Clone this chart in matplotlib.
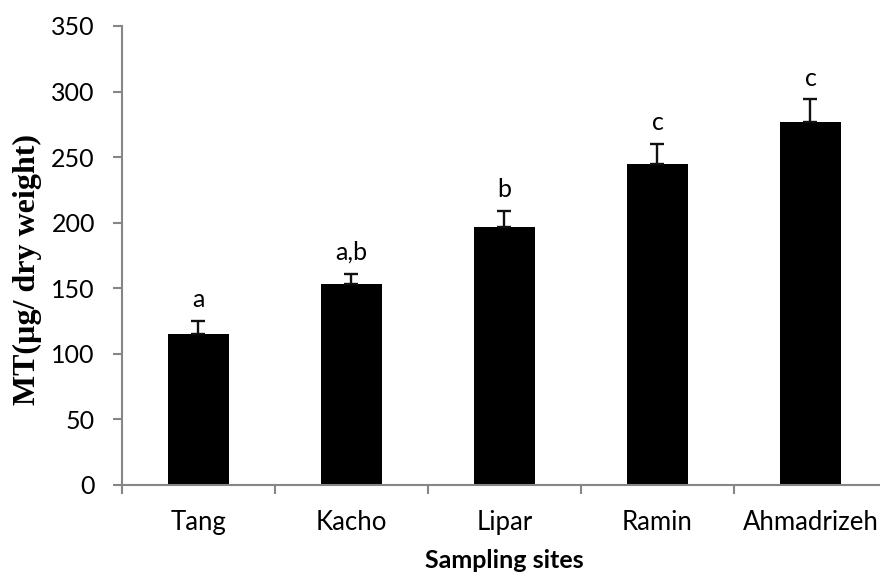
#!/usr/bin/env python3
"""MT levels per sampling site - bar chart with error bars"""
import matplotlib
matplotlib.use("Agg")
import matplotlib.pyplot as plt
import numpy as np

sites = ["Tang", "Kacho", "Lipar", "Ramin", "Ahmadrizeh"]
mt = [115, 153, 197, 245, 277]
err = [10, 8, 12, 15, 17]
groups = ["a", "a,b", "b", "c", "c"]
yticks = [0, 50, 100, 150, 200, 250, 300, 350]

plt.rcParams["font.family"] = ["Lato", "DejaVu Sans"]
axis_gray = "#868686"

fig = plt.figure(figsize=(8.8, 5.79), dpi=100)
ax = fig.add_axes([0.1386, 0.1624, 0.8693, 0.7927])

x = np.arange(len(sites))
ax.bar(x, mt, width=0.4, color="black", zorder=2)
ax.errorbar(x, mt, yerr=[np.zeros(len(err)), err], fmt="none", ecolor="#111111",
            elinewidth=1.7, capsize=4.7, capthick=1.7, zorder=3)

for xi, v, e, g in zip(x, mt, err, groups):
    ax.annotate(g, (xi, v + e), xytext=(0, 10), textcoords="offset points",
                ha="center", va="baseline", fontsize=18)

ax.set_xlim(-0.5, len(sites) - 0.5)
ax.set_ylim(0, 350)
ax.set_yticks(yticks)

# boundary ticks between categories, labels at centres
ax.set_xticks(np.arange(-0.5, len(sites), 1.0))
ax.set_xticklabels([])
ax.set_xticks(x, minor=True)
ax.set_xticklabels(sites, minor=True)
ax.tick_params(axis="x", which="minor", length=0, pad=18, labelsize=18.5)
ax.tick_params(axis="x", which="major", length=6.5, width=1.5, color=axis_gray, direction="out")
ax.tick_params(axis="y", length=6.5, width=1.5, color=axis_gray, direction="out",
               pad=13, labelsize=18)

for s in ["top", "right"]:
    ax.spines[s].set_visible(False)
for s in ["left", "bottom"]:
    ax.spines[s].set_color(axis_gray)
    ax.spines[s].set_linewidth(1.5)

ax.set_xlabel("Sampling sites", fontsize=18, fontweight="bold")
ax.xaxis.set_label_coords(0.5, -0.14)
ax.set_ylabel("MT(µg/ dry weight)", fontsize=23, fontweight="bold",
              family=["Liberation Serif", "DejaVu Serif"])
ax.yaxis.set_label_coords(-0.105, 0.47)

fig.savefig("out.png", dpi=100)
